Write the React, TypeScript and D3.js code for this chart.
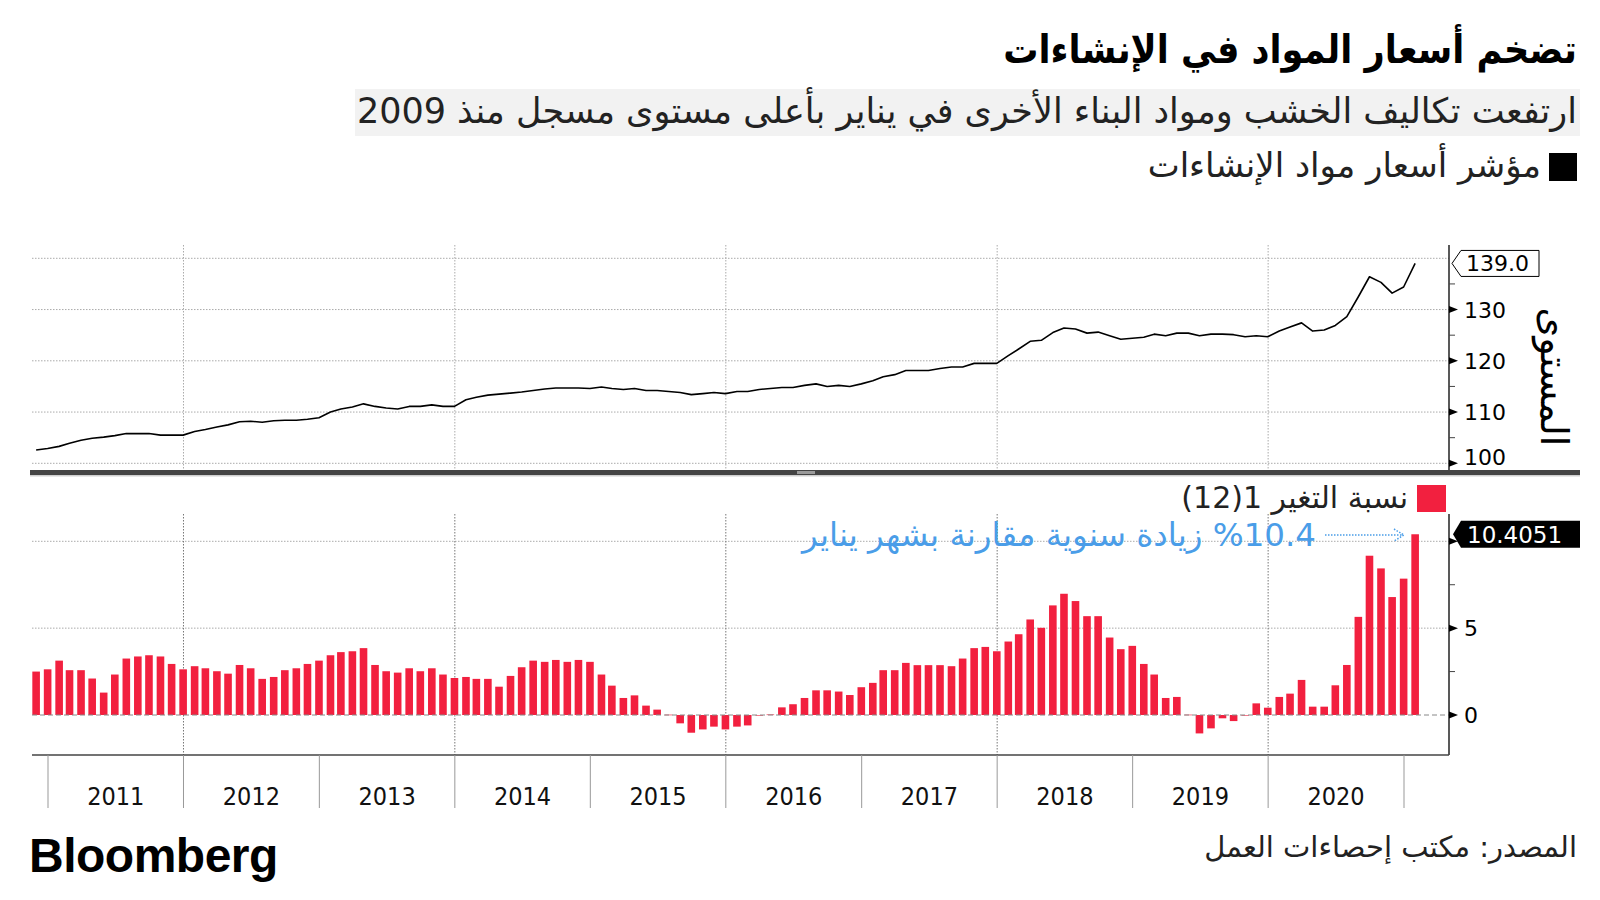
import React from 'react';
import * as d3 from 'd3';

// ---------- DATA ----------
// Monthly series, Nov 2010 .. Jan 2021 (each value at its month end)
const firstMonth = { year: 2010, month: 10 }; // November 2010 (0-based month)

const indexValues: number[] = [
  102.6, 102.9, 103.3, 103.9, 104.5, 104.9, 105.1, 105.4, 105.8, 105.8, 105.8, 105.5, 105.5, 105.5,
  106.2, 106.6, 107.1, 107.5, 108.1, 108.2, 108.0, 108.3, 108.4, 108.4, 108.6, 108.9,
  110.0, 110.6, 111.0, 111.6, 111.1, 110.8, 110.6, 111.1, 111.1, 111.4, 111.1, 111.1,
  112.4, 112.9, 113.3, 113.5, 113.7, 113.9, 114.2, 114.5, 114.7, 114.7, 114.7, 114.6,
  114.9, 114.6, 114.4, 114.6, 114.2, 114.2, 114.0, 113.8, 113.4, 113.6, 113.8, 113.6,
  114.0, 114.0, 114.4, 114.6, 114.8, 114.8, 115.2, 115.5, 115.0, 115.2, 115.0, 115.5,
  116.1, 116.9, 117.3, 118.1, 118.1, 118.1, 118.5, 118.8, 118.8, 119.5, 119.5, 119.5,
  121.0, 122.3, 123.8, 124.0, 125.5, 126.4, 126.2, 125.4, 125.6, 124.9, 124.2, 124.4,
  124.6, 125.2, 124.9, 125.4, 125.4, 124.9, 125.2, 125.2, 125.1, 124.7, 124.9, 124.7,
  125.8, 126.6, 127.4, 125.8, 126.0, 126.9, 128.6, 132.5, 136.4, 135.3, 133.2, 134.4, 139.0,
];

const changeValues: number[] = [
  2.5, 2.63, 3.13, 2.58, 2.58, 2.1, 1.29, 2.33, 3.25, 3.37, 3.44, 3.37, 2.94, 2.63,
  2.81, 2.69, 2.52, 2.38, 2.88, 2.69, 2.08, 2.19, 2.58, 2.69, 2.94, 3.13,
  3.44, 3.62, 3.67, 3.85, 2.88, 2.52, 2.44, 2.69, 2.52, 2.69, 2.33, 2.13,
  2.19, 2.08, 2.08, 1.63, 2.25, 2.75, 3.13, 3.06, 3.17, 3.06, 3.17, 3.06,
  2.33, 1.69, 0.98, 1.13, 0.54, 0.31, 0.02, -0.48, -1.02, -0.83, -0.67, -0.83,
  -0.67, -0.6, -0.02, 0.03, 0.44, 0.62, 0.98, 1.42, 1.42, 1.35, 1.15, 1.6,
  1.85, 2.58, 2.58, 3.0, 2.87, 2.87, 2.87, 2.81, 3.25, 3.85, 3.92, 3.67,
  4.23, 4.65, 5.5, 5.02, 6.31, 6.98, 6.56, 5.69, 5.69, 4.46, 3.79, 3.98,
  2.94, 2.33, 0.98, 1.04, 0.02, -1.06, -0.77, -0.19, -0.35, -0.02, 0.67, 0.42,
  1.04, 1.23, 2.02, 0.48, 0.48, 1.71, 2.88, 5.65, 9.17, 8.44, 6.79, 7.85, 10.4051,
];

const yearLabels: string[] = ['2011', '2012', '2013', '2014', '2015', '2016', '2017', '2018', '2019', '2020'];
const gridYears: number[] = [2012, 2014, 2016, 2018, 2020];
const indexTicks: number[] = [100, 110, 120, 130];
const indexMinorTicks: number[] = [105, 115, 125, 135];
const indexGrid: number[] = [100, 110, 120, 130, 140];
const changeTicks: number[] = [0, 5, 10];
const changeMinorTicks: number[] = [2.5, 7.5];

const title = 'تضخم أسعار المواد في الإنشاءات';
const subtitle = 'ارتفعت تكاليف الخشب ومواد البناء الأخرى في يناير بأعلى مستوى مسجل منذ 2009';
const legendIndex = 'مؤشر أسعار مواد الإنشاءات';
const legendChange = 'نسبة التغير 1(12)';
const axisTitle = 'المستوى';
const annotation = '%10.4 زيادة سنوية مقارنة بشهر يناير';
const source = 'المصدر: مكتب إحصاءات العمل';
const lastIndexLabel = '139.0';
const lastChangeLabel = '10.4051';

// ---------- HELPERS ----------
const RLE = '\u202B';
const PDF = '\u202C';
const rtl = (s: string) => RLE + s + PDF;
const AR = '"DejaVu Sans", sans-serif';
const AR_COND = '"DejaVu Sans Condensed", "DejaVu Sans", sans-serif';

const monthEnd = (i: number) => new Date(firstMonth.year, firstMonth.month + i + 1, 0);

export default function App() {
  const W = 1600;
  const H = 900;
  const plotLeft = 32;
  const plotRight = 1449;

  const x = d3.scaleTime()
    .domain([new Date(2011, 0, 1), new Date(2021, 0, 1)])
    .range([48, 1404]);

  const yTop = d3.scaleLinear().domain([100, 140]).range([463.3, 258.3]);
  const yBot = d3.scaleLinear().domain([0, 10]).range([715, 541.3]);

  const line = d3.line<number>()
    .x((_, i) => x(monthEnd(i)))
    .y((d) => yTop(d));

  const barW = 7.6;
  const redColor = '#f2203f';
  const blue = '#4a9de8';
  const gridColor = '#aaaaaa';

  const yearStarts = d3.range(2011, 2022).map((y) => x(new Date(y, 0, 1)));

  const tri = (yy: number) => `M${plotRight},${yy - 3.5} L${plotRight + 9},${yy} L${plotRight},${yy + 3.5} Z`;

  const lastIdx = indexValues.length - 1;
  const yLast = yTop(indexValues[lastIdx]);
  const yLastChg = yBot(changeValues[lastIdx]);

  return (
    <svg width={W} height={H} style={{ position: 'absolute', left: 0, top: 0, background: '#fff' }}
      xmlns="http://www.w3.org/2000/svg">
      <rect x={0} y={0} width={W} height={H} fill="#ffffff" />

      {/* Title */}
      <text x={1577} y={63} textAnchor="end" fontFamily={AR_COND} fontWeight="bold" fontSize={39} fill="#000">{rtl(title)}</text>
      {/* Subtitle */}
      <rect x={355} y={89} width={1225} height={47} fill="#f2f2f2" />
      <text x={1577} y={123} textAnchor="end" fontFamily={AR} fontSize={35} fill="#222">{rtl(subtitle)}</text>
      {/* Legend 1 */}
      <rect x={1549} y={153} width={28} height={28} fill="#000" />
      <text x={1541} y={177} textAnchor="end" fontFamily={AR} fontSize={34} fill="#222">{rtl(legendIndex)}</text>

      {/* ---------- Top panel ---------- */}
      {indexGrid.map((v) => (
        <line key={'hg' + v} x1={plotLeft} x2={plotRight} y1={yTop(v)} y2={yTop(v)}
          stroke={gridColor} strokeWidth={1} strokeDasharray="1.5,1.5" />
      ))}
      {gridYears.map((yr) => {
        const gx = x(new Date(yr, 0, 1));
        return <line key={'vg' + yr} x1={gx} x2={gx} y1={245} y2={470} stroke={gridColor} strokeWidth={1} strokeDasharray="1.5,1.5" />;
      })}
      <path d={line(indexValues) || ''} fill="none" stroke="#000" strokeWidth={1.6} strokeLinejoin="round" />

      {/* Right axis top */}
      <line x1={plotRight} x2={plotRight} y1={245} y2={472} stroke="#222" strokeWidth={1.5} />
      {indexTicks.map((v) => (
        <g key={'it' + v}>
          <path d={tri(yTop(v))} fill="#000" />
          <text x={1464} y={(v === 100 ? yTop(v) - 6 : yTop(v)) + 8} fontFamily={AR} fontSize={22} fill="#000">{v}</text>
        </g>
      ))}
      {indexMinorTicks.map((v) => (
        <line key={'im' + v} x1={plotRight} x2={plotRight + 6} y1={yTop(v)} y2={yTop(v)} stroke="#444" strokeWidth={1} />
      ))}
      <path d={`M${plotRight + 3},${yLast} L${1461},${yLast - 13} L1539,${yLast - 13} L1539,${yLast + 13} L1461,${yLast + 13} Z`}
        fill="#fff" stroke="#000" strokeWidth={1} />
      <text x={1466} y={yLast + 8} fontFamily={AR} fontSize={22} fill="#000">{lastIndexLabel}</text>
      <text transform={`translate(1541,377) rotate(90)`} textAnchor="middle" fontFamily={AR} fontSize={38} fill="#000">{rtl(axisTitle)}</text>

      {/* Divider */}
      <rect x={30} y={470} width={1550} height={5} fill="#444" />
      <rect x={30} y={475} width={1550} height={1.5} fill="#cfcfcf" />
      <rect x={797} y={471} width={18} height={3} fill="#9a9a9a" />

      {/* ---------- Bottom panel ---------- */}
      {/* Legend 2 */}
      <rect x={1417} y={485} width={29} height={27} fill={redColor} />
      <text x={1408} y={508} textAnchor="end" fontFamily={AR} fontSize={30} fill="#222">{rtl(legendChange)}</text>

      {changeTicks.filter((v) => v !== 0).map((v) => (
        <line key={'cg' + v} x1={plotLeft} x2={plotRight} y1={yBot(v)} y2={yBot(v)}
          stroke={gridColor} strokeWidth={1} strokeDasharray="1.5,1.5" />
      ))}
      {gridYears.map((yr) => {
        const gx = x(new Date(yr, 0, 1));
        return <line key={'vb' + yr} x1={gx} x2={gx} y1={514} y2={755} stroke="#777" strokeWidth={1} strokeDasharray="1.5,1.5" />;
      })}

      {changeValues.map((v, i) => {
        const cx = x(monthEnd(i));
        const y0 = yBot(0);
        const yv = yBot(v);
        return (
          <rect key={'b' + i} x={cx - barW / 2} width={barW} y={Math.min(y0, yv)} height={Math.max(0.6, Math.abs(yv - y0))} fill={redColor} />
        );
      })}
      <line x1={plotLeft} x2={plotRight} y1={yBot(0)} y2={yBot(0)} stroke="#888" strokeWidth={1} strokeDasharray="5,3" />

      {/* Annotation */}
      <text x={1316} y={546} textAnchor="end" fontFamily={AR} fontSize={32.5} fill={blue}>{rtl(annotation)}</text>
      <line x1={1325} x2={1403} y1={535} y2={535} stroke={blue} strokeWidth={1.5} strokeDasharray="1.5,1.5" />
      <path d="M1394,529 L1404,535 L1394,541" fill="none" stroke={blue} strokeWidth={1.5} strokeDasharray="1.5,1.5" />

      {/* Right axis bottom */}
      <line x1={plotRight} x2={plotRight} y1={514} y2={755} stroke="#222" strokeWidth={1.5} />
      {changeTicks.map((v) => (
        <g key={'ct' + v}>
          <path d={tri(yBot(v))} fill="#000" />
          {v !== 10 && <text x={1464} y={yBot(v) + 8} fontFamily={AR} fontSize={22} fill="#000">{v}</text>}
        </g>
      ))}
      {changeMinorTicks.map((v) => (
        <line key={'cm' + v} x1={plotRight} x2={plotRight + 6} y1={yBot(v)} y2={yBot(v)} stroke="#444" strokeWidth={1} />
      ))}
      <path d={`M${plotRight + 4},${yLastChg} L1461,${yLastChg - 13.5} L1580,${yLastChg - 13.5} L1580,${yLastChg + 13.5} L1461,${yLastChg + 13.5} Z`}
        fill="#000" />
      <text x={1467} y={yLastChg + 8.5} fontFamily={AR} fontSize={23} fill="#fff">{lastChangeLabel}</text>

      {/* X axis */}
      <line x1={plotLeft} x2={plotRight} y1={755} y2={755} stroke="#444" strokeWidth={1.5} />
      {yearStarts.map((sx, k) => (
        <line key={'ys' + k} x1={sx} x2={sx} y1={755} y2={808} stroke="#999" strokeWidth={1} />
      ))}
      {yearLabels.map((lbl, k) => {
        const cx = (yearStarts[k] + yearStarts[k + 1]) / 2;
        return <text key={'yl' + lbl} x={cx} y={805} textAnchor="middle" fontFamily={AR_COND} fontSize={25} fill="#111">{lbl}</text>;
      })}

      {/* Footer */}
      <text x={29} y={872} fontFamily={'"Liberation Sans", Arial, sans-serif'} fontWeight="bold" fontSize={48} letterSpacing={-0.5} fill="#000">Bloomberg</text>
      <text x={1577} y={857} textAnchor="end" fontFamily={AR} fontSize={29} fill="#222">{rtl(source)}</text>
    </svg>
  );
}
